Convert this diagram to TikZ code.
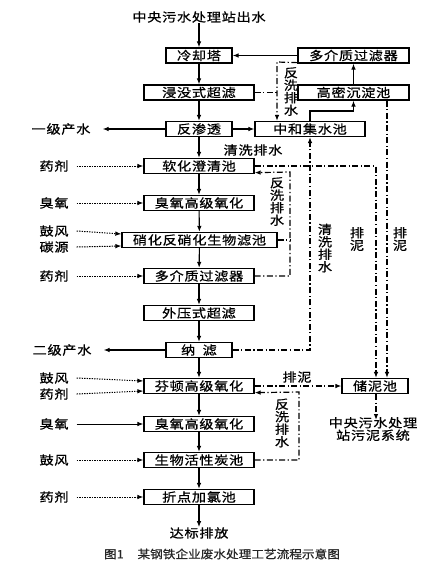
\documentclass[tikz,border=0pt]{standalone}
\usepackage{fontspec}
\newfontfamily\cjkf{Noto Sans CJK SC}[FakeStretch=1.15,LetterSpace=6,FakeBold=0.8]
\newfontfamily\capf{Noto Sans CJK SC}[FakeStretch=1.1,FakeBold=0.6]
\usetikzlibrary{arrows.meta,calc}
\newcommand\bxf{\cjkf\fontsize{12.3}{12.5}\selectfont}
\begin{document}
\begin{tikzpicture}[x=1pt,y=-1pt,
  every node/.style={font=\bxf,inner sep=0pt},
  box/.style={draw,line width=1.3pt,minimum height=15pt,inner sep=0pt},
  wide/.style={minimum width=110pt},
  narrow/.style={minimum width=66pt},
  vtext/.style={align=center},
  arr/.style={-{Latex[length=6pt,width=4.6pt]}},
  flow/.style={line width=1.1pt,arr},
  dd/.style={line width=1.2pt,dash pattern=on 6pt off 2.5pt on 1.2pt off 2.5pt},
  dots/.style={line width=1pt,dash pattern=on 1.3pt off 1.2pt}]
\useasboundingbox (0,0) rectangle (427,563);
% main column
\node (src) at (199,17) {中央污水处理站出水};
\node[box,narrow] (cool) at (199,55.5) {冷却塔};
\node[box,minimum width=111pt] (mmfa) at (353.5,55.5) {多介质过滤器};
\node[box,wide] (ufa) at (199,92.5) {浸没式超滤};
\node[box,minimum width=111pt] (hd) at (353.5,92.5) {高密沉淀池};
\node[box,narrow] (ro) at (199,129) {反渗透};
\node[box,wide] (nz) at (310,129) {中和集水池};
\node[box,wide] (soft) at (199,166) {软化澄清池};
\node[box,wide] (oza) at (199,203) {臭氧高级氧化};
\node[box,minimum width=155pt] (bf) at (199.5,240) {硝化反硝化生物滤池};
\node[box,wide] (mmfb) at (199,276) {多介质过滤器};
\node[box,wide] (ufb) at (199,313) {外压式超滤};
\node[box,narrow] (nf) at (199,350) {纳\hspace{0.6em}滤};
\node[box,wide] (fen) at (199,386) {芬顿高级氧化};
\node[box,wide] (ozb) at (199,424) {臭氧高级氧化};
\node[box,wide] (bac) at (199,460) {生物活性炭池};
\node[box,wide] (cl) at (199,497) {折点加氯池};
\node[box,narrow] (sl) at (375,386) {储泥池};
\node (out) at (199,533) {达标排放};
\node[align=center] (sys) at (373,429) {中央污水处理\\站污泥系统};
% main flow
\draw[flow] (src) -- (cool);
\draw[flow] (cool) -- (ufa);
\draw[flow] (ufa) -- (ro);
\draw[flow] (ro) -- (soft);
\draw[flow] (soft) -- (oza);
\draw[flow] (oza) -- (bf);
\draw[flow] (bf) -- (mmfb);
\draw[flow] (mmfb) -- (ufb);
\draw[flow] (ufb) -- (nf);
\draw[flow] (nf) -- (fen);
\draw[flow] (fen) -- (ozb);
\draw[flow] (ozb) -- (bac);
\draw[flow] (bac) -- (cl);
\draw[flow] (cl) -- (out);
% top right loop
\draw[flow] (ro) -- (nz);
\draw[flow] (mmfa) -- (cool);
\draw[flow] (hd.north) -- (mmfa.south);
\draw[flow] (nz.north) -- (310,111) -- (353.5,111) -- (hd.south);
% products
\node (p1) at (61,129) {一级产水};
\node (p2) at (62,350) {二级产水};
\draw[flow] (ro.west) -- ([xshift=12pt]p1.east);
\draw[flow] (nf.west) -- ([xshift=12pt]p2.east);
% inputs
\node (i1) at (54,166) {药剂};
\node (i2) at (54,203) {臭氧};
\node (i3) at (54,231) {鼓风};
\node (i4) at (54,247) {碳源};
\node (i5) at (54,276) {药剂};
\node (i6) at (54,378) {鼓风};
\node (i7) at (54,394) {药剂};
\node (i8) at (54,424) {臭氧};
\node (i9) at (54,460) {鼓风};
\node (i10) at (54,497) {药剂};
\draw[dots,arr] ([xshift=8pt]i1.east) -- (soft.west);
\draw[dots,arr] ([xshift=8pt]i2.east) -- (oza.west);
\draw[dots,arr] ([xshift=8pt]i3.east) -- (bf.west |- 0,234);
\draw[dots,arr] ([xshift=8pt]i4.east) -- (bf.west |- 0,246);
\draw[dots,arr] ([xshift=8pt]i5.east) -- (mmfb.west);
\draw[dots,arr] ([xshift=8pt]i6.east) -- (fen.west |- 0,381);
\draw[dots,arr] ([xshift=8pt]i7.east) -- (fen.west |- 0,391);
\draw[line width=0.9pt,arr] ([xshift=8pt]i8.east) -- (ozb.west);
\draw[dots,arr] ([xshift=8pt]i9.east) -- (bac.west);
\draw[dots,arr] ([xshift=8pt]i10.east) -- (cl.west);
% backwash top
\draw[dd,arr] ($(mmfa.south west)+(0,-1)$) -- (277,62) -- (nz.north -| 277,0);
\draw[dd] (ufa.east) -- (277,92.5);
\node[vtext] (t1) at (291,91.5) {反\\洗\\排\\水};
\node (t2) at (253,150) {清洗排水};
% cleaning water from NF to neutralization
\draw[dd,arr] (nf.east) -- (310,350) -- (nz.south);
\node[vtext] (t3) at (325,248) {清\\洗\\排\\水};
% backwash middle
\draw[dd,arr] (mmfb.east) -- (290,276) -- (290,172) -- ($(soft.south east)+(0,-1.5)$);
\draw[dd] (bf.east) -- (290,240);
\node[vtext] (t4) at (277,201.5) {反\\洗\\排\\水};
% sludge
\draw[dd,arr] (soft.east) -- (376,166) -- (sl.north -| 376,0);
\draw[dd,arr] (hd.south -| 387,0) -- (sl.north -| 387,0);
\node[vtext] (t5) at (357,239) {排\\泥};
\node[vtext] (t6) at (400,239) {排\\泥};
\draw[dd,arr] (fen.east) -- (sl.west);
\node (t7) at (297,377) {排泥};
\draw[dd,arr] (sl.south -| 376,0) -- (376,420);
% backwash bottom
\draw[dd,arr] (bac.east) -- (299,460) -- (299,392) -- ($(fen.south east)+(0,-1.5)$);
\node[vtext] (t8) at (282,423) {反\\洗\\排\\水};
% caption
\node[font=\capf\fontsize{11.5}{12}\selectfont,text=black!85] (cap) at (222,554) {图1\hspace{1.2em}某钢铁企业废水处理工艺流程示意图};
\end{tikzpicture}
\end{document}
